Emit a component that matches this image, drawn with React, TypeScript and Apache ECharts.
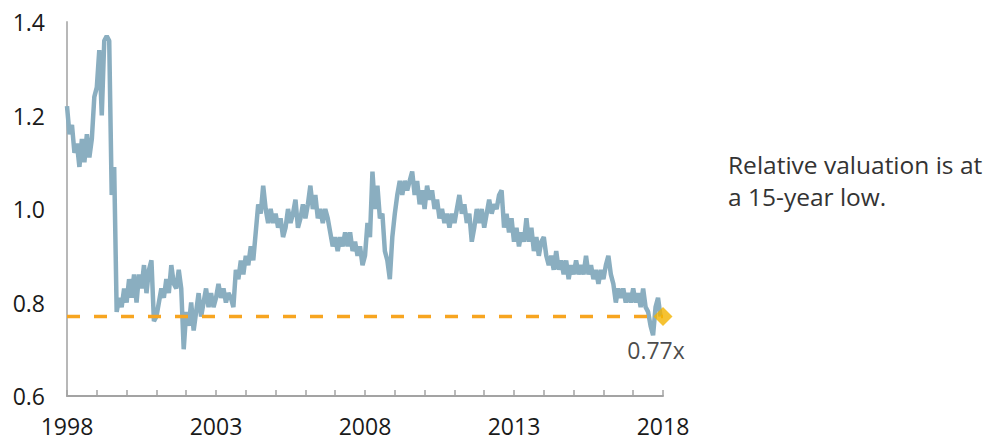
import React, { useEffect, useRef } from 'react';
import * as echarts from 'echarts';

// ---- data (monthly readings, Jan 1998 - Dec 2017) ----
const startYear = 1998;
const endYear = 2018;
const xTickLabels = ['1998', '2003', '2008', '2013', '2018'];

const rel1998to2002 = [
  1.22, 1.16, 1.18, 1.12, 1.14, 1.09, 1.15, 1.10, 1.16, 1.11, 1.15, 1.24,
  1.26, 1.34, 1.20, 1.36, 1.37, 1.36, 1.03, 1.09, 0.78, 0.81, 0.79, 0.83,
  0.80, 0.85, 0.81, 0.86, 0.80, 0.86, 0.83, 0.88, 0.82, 0.87, 0.89, 0.76,
  0.77, 0.80, 0.83, 0.81, 0.85, 0.82, 0.88, 0.84, 0.83, 0.87, 0.83, 0.70,
  0.78, 0.75, 0.80, 0.74, 0.78, 0.82, 0.77, 0.80, 0.83, 0.79, 0.82, 0.79,
];
const rel2003to2007 = [
  0.81, 0.84, 0.81, 0.83, 0.80, 0.82, 0.81, 0.79, 0.87, 0.85, 0.89, 0.86,
  0.90, 0.88, 0.92, 0.89, 0.95, 1.01, 0.99, 1.05, 1.00, 0.97, 1.00, 0.97,
  0.99, 0.96, 0.98, 0.94, 0.96, 1.00, 0.97, 0.99, 1.02, 0.96, 0.98, 1.01,
  0.98, 1.01, 1.05, 1.00, 1.03, 0.98, 1.00, 0.97, 1.00, 0.98, 0.95, 0.92,
  0.94, 0.91, 0.94, 0.92, 0.95, 0.92, 0.95, 0.91, 0.93, 0.90, 0.92, 0.88,
];
const rel2008to2012 = [
  0.90, 0.97, 0.94, 1.08, 1.00, 1.05, 0.98, 0.99, 0.91, 0.89, 0.85, 0.94,
  0.99, 1.03, 1.06, 1.03, 1.06, 1.04, 1.06, 1.08, 1.03, 1.06, 1.01, 1.04,
  1.00, 1.05, 1.02, 1.04, 1.00, 1.02, 0.98, 1.00, 0.97, 0.99, 0.96, 0.99,
  0.97, 1.00, 1.03, 0.99, 1.01, 0.97, 0.99, 0.93, 0.96, 1.00, 0.97, 1.00,
  0.96, 0.99, 1.02, 0.99, 1.01, 1.00, 1.03, 1.04, 0.96, 0.99, 0.95, 0.98,
];
const rel2013to2017 = [
  0.93, 0.96, 0.92, 0.95, 0.93, 0.98, 0.93, 0.96, 0.91, 0.94, 0.90, 0.93,
  0.94, 0.90, 0.88, 0.90, 0.87, 0.91, 0.87, 0.89, 0.86, 0.89, 0.85, 0.88,
  0.86, 0.89, 0.86, 0.88, 0.86, 0.90, 0.86, 0.88, 0.85, 0.87, 0.84, 0.87,
  0.85, 0.88, 0.90, 0.86, 0.84, 0.80, 0.83, 0.81, 0.83, 0.80, 0.82, 0.80,
  0.83, 0.80, 0.82, 0.79, 0.83, 0.79, 0.78, 0.75, 0.73, 0.79, 0.81, 0.77,
];

const currentValue = 0.77;
const currentLabel = '0.77x';
const noteLines = ['Relative valuation is at', 'a 15-year low.'];

const relValues = [...rel1998to2002, ...rel2003to2007, ...rel2008to2012, ...rel2013to2017];

export default function App() {
  const ref = useRef<HTMLDivElement>(null);

  useEffect(() => {
    document.body.style.margin = '0';
    if (!ref.current) return;
    const chart = echarts.init(ref.current, null, { renderer: 'svg' });
    const font = '"Open Sans", "Noto Sans", sans-serif';
    const lineData = relValues.map((v, i) => [startYear + i / 12, v]);

    chart.setOption({
      animation: false,
      backgroundColor: '#ffffff',
      textStyle: { fontFamily: font },
      grid: { left: 67, right: 324, top: 22, bottom: 42, containLabel: false },
      xAxis: {
        type: 'value',
        min: startYear,
        max: endYear,
        interval: 1,
        axisLine: { show: true, lineStyle: { color: '#a3a3a3', width: 2 } },
        axisTick: { show: true, inside: true, length: 6, lineStyle: { color: '#a3a3a3', width: 1.5 } },
        splitLine: { show: false },
        axisLabel: {
          fontSize: 23,
          lineHeight: 20,
          color: '#1a1a1a',
          fontFamily: font,
          margin: 20,
          showMinLabel: true,
          showMaxLabel: true,
          formatter: (v: number) => (xTickLabels.includes(String(v)) ? String(v) : ''),
        },
      },
      yAxis: {
        type: 'value',
        min: 0.6,
        max: 1.4,
        interval: 0.2,
        axisLine: { show: true, lineStyle: { color: '#b8b8b8', width: 2 } },
        axisTick: { show: false },
        splitLine: { show: false },
        axisLabel: {
          fontSize: 23,
          color: '#1a1a1a',
          fontFamily: font,
          margin: 22,
          formatter: (v: number) => v.toFixed(1),
        },
      },
      series: [
        {
          type: 'line',
          data: lineData,
          showSymbol: false,
          symbol: 'none',
          lineStyle: { color: '#8AAEC0', width: 4.5 },
          z: 2,
        },
        {
          type: 'line',
          data: [[startYear, currentValue], [endYear, currentValue]],
          showSymbol: false,
          symbol: 'none',
          lineStyle: { color: '#F7A520', width: 3.5, type: [13, 14] },
          z: 3,
        },
        {
          type: 'scatter',
          data: [[endYear, currentValue]],
          symbol: 'diamond',
          symbolSize: 19,
          itemStyle: { color: '#F2B300' },
          label: {
            show: true,
            position: 'bottom',
            distance: 12,
            offset: [-7, 0],
            formatter: () => currentLabel,
            fontSize: 23,
            color: '#1a1a1a',
            fontFamily: font,
          },
          z: 4,
        },
      ],
      graphic: [
        {
          type: 'text',
          left: 728,
          top: 148,
          style: {
            text: noteLines.join('\n'),
            font: '24.5px "Open Sans", "Noto Sans", sans-serif',
            lineHeight: 32,
            fill: '#333333',
          },
        },
      ],
    });

    return () => chart.dispose();
  }, []);

  return <div ref={ref} style={{ width: 987, height: 438 }} />;
}
